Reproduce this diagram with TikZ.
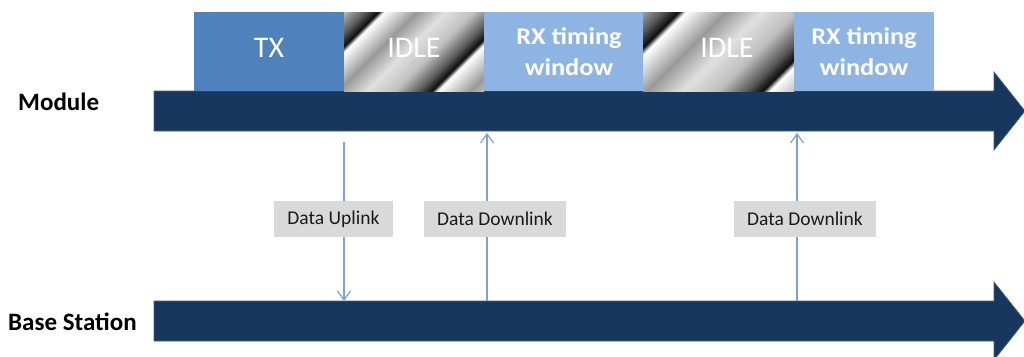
\documentclass[tikz,border=0pt]{standalone}
\usepackage{fontspec}
\setmainfont{Carlito}
\usetikzlibrary{arrows.meta,calc}
\definecolor{darkbar}{HTML}{17375E}
\definecolor{txblue}{HTML}{4F81BD}
\definecolor{rxblue}{HTML}{8DB4E2}
\definecolor{lblgray}{HTML}{D9D9D9}
\definecolor{connblue}{HTML}{7EA2D6}
\pgfdeclarehorizontalshading{idlestripes}{100bp}{%
color(0bp)=(black!30); color(4bp)=(black!60); color(6.6bp)=(black!95); color(7.8bp)=(white);
color(14.6bp)=(black!40); color(20.6bp)=(black!12); color(26.6bp)=(black!25); color(31.6bp)=(black!65);
color(34.3bp)=(black!95); color(35.5bp)=(white);
color(42.3bp)=(black!40); color(48.3bp)=(black!12); color(54.3bp)=(black!25); color(59.3bp)=(black!65);
color(62bp)=(black!95); color(63.2bp)=(white);
color(70bp)=(black!40); color(76bp)=(black!12); color(82bp)=(black!25); color(87bp)=(black!65);
color(89.7bp)=(black!95); color(90.9bp)=(white);
color(97.7bp)=(black!40); color(100bp)=(black!30)}
\tikzset{
  slotbox/.style={anchor=north west, minimum height=79pt, inner sep=0pt, outer sep=0pt, text=white},
  txlabel/.style={font=\fontsize{30}{32}\selectfont},
  rxlabel/.style={font=\addfontfeature{FakeStretch=1.1}\bfseries\fontsize{24}{31}\selectfont, align=center},
  sidelabel/.style={font=\bfseries\fontsize{25}{28}\selectfont, text=black, anchor=base west, inner sep=0pt},
  datalabel/.style={fill=lblgray, minimum width=#1, minimum height=36pt, inner sep=0pt,
     font=\fontsize{19.5}{22}\selectfont, text=black!90},
  conn/.style={draw=connblue, line width=1.2pt, -{Straight Barb[length=9pt,width=13pt,line width=1.2pt]}},
  barfill/.style={fill=darkbar, draw=darkbar!80!white, line width=0.6pt}
}
\begin{document}
\begin{tikzpicture}[x=1pt,y=-1pt]
\clip (0,0) rectangle (1024,356);
\useasboundingbox (0,0) rectangle (1024,356);
% time axes
\draw[barfill] (154,91) -- (994,91) -- (994,72) -- (1025,111) -- (994,150) -- (994,131) -- (154,131) -- cycle;
\draw[barfill] (154,301) -- (994,301) -- (994,282) -- (1025,321) -- (994,360) -- (994,341) -- (154,341) -- cycle;
\node[sidelabel] (mod) at (18,110) {Module};
\node[sidelabel] (bs) at (8,330) {Base Station};
% slots
\node[slotbox, fill=txblue, minimum width=150pt] (tx) at (194,12) {};
\node[txlabel, text=white] (txt) at (269,48) {TX};
\node[slotbox, minimum width=140pt, path picture={
  \shade[shading=idlestripes, shading angle=-45] ($(path picture bounding box.center)+(-85,-85)$) rectangle ($(path picture bounding box.center)+(85,85)$);}] (idle1) at (344,12) {};
\node[txlabel, text=white] (idle1t) at (414,48) {IDLE};
\node[slotbox, fill=rxblue, minimum width=159pt] (rx1) at (484,12) {};
\node[rxlabel, text=white] (rx1t) at (569,52) {RX timing\\window};
\node[slotbox, minimum width=151pt, path picture={
  \shade[shading=idlestripes, shading angle=-45] ($(path picture bounding box.center)+(13-104.5,-104.5)$) rectangle ($(path picture bounding box.center)+(13+104.5,104.5)$);}] (idle2) at (643,12) {};
\node[txlabel, text=white] (idle2t) at (727,48) {IDLE};
\node[slotbox, fill=rxblue, minimum width=140pt] (rx2) at (794,12) {};
\node[rxlabel, text=white] (rx2t) at (864,52) {RX timing\\window};
% connector end points
\coordinate (upA) at (344,142);
\coordinate (upB) at (344,301);
\coordinate (dnA) at (487,301);
\coordinate (dnB) at (487,133);
\coordinate (dn2A) at (797,301);
\coordinate (dn2B) at (797,133);
\draw[conn] (upA) -- (upB);
\draw[conn] (dnA) -- (dnB);
\draw[conn] (dn2A) -- (dn2B);
\node[datalabel=119pt] (lup) at (333.5,219) {Data Uplink};
\node[datalabel=142pt] (ldn1) at (495,219) {Data Downlink};
\node[datalabel=142pt] (ldn2) at (805,219) {Data Downlink};
\end{tikzpicture}
\end{document}
